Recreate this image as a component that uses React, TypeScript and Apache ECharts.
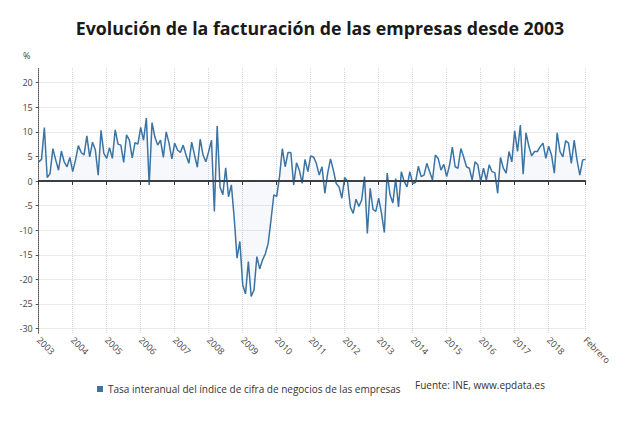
import React, { useEffect, useRef } from "react";
import * as echarts from "echarts";

const TITLE = "Evolución de la facturación de las empresas desde 2003";
const SERIES_NAME = "Tasa interanual del índice de cifra de negocios de las empresas";
const SOURCE = "Fuente: INE, www.epdata.es";
const LAST_LABEL = "Febrero";

const YEARS = [2003, 2004, 2005, 2006, 2007, 2008, 2009, 2010, 2011, 2012, 2013, 2014, 2015, 2016, 2017, 2018, 2019];

const v2003 = [3.9, 4.4, 10.9, 0.7, 1.5, 6.6, 4.3, 2.2, 6.1, 3.9, 2.9, 4.8];
const v2004 = [1.9, 4.3, 7.2, 5.8, 5.3, 9.2, 4.9, 7.9, 6.3, 1.2, 10.3, 5.6];
const v2005 = [4.6, 6.8, 4.6, 10.4, 7.5, 7.3, 3.8, 9.4, 8.3, 4.7, 7.8, 7.5];
const v2006 = [10.9, 8.3, 12.8, -0.8, 11.9, 9.0, 7.3, 8.3, 4.8, 10.0, 7.7, 4.5];
const v2007 = [7.7, 6.3, 5.8, 7.3, 5.3, 3.6, 7.9, 5.3, 2.8, 8.5, 5.3, 3.9];
const v2008 = [6.0, 8.3, -6.2, 11.2, -1.2, -2.8, 2.7, -3.2, -0.8, -7.5, -15.7, -12.3];
const v2009 = [-21.1, -23.0, -16.4, -23.5, -22.2, -15.4, -17.9, -16.1, -14.8, -12.7, -7.9, -2.8];
const v2010 = [-3.2, 0.9, 6.6, 2.9, 5.8, 5.8, -0.8, 3.7, 2.2, -0.5, 4.4, 1.9];
const v2011 = [5.1, 4.9, 3.6, 1.2, 2.9, -2.5, 1.6, 4.5, 2.2, -0.5, -1.2, -3.5];
const v2012 = [0.7, -0.1, -5.3, -6.6, -3.7, -5.2, -3.9, 0.9, -10.7, -1.5, -5.8, -6.2];
const v2013 = [-3.5, -6.6, -10.5, 1.6, -2.8, -4.5, 0.5, -5.3, 1.9, -0.1, -1.2, 1.9];
const v2014 = [-0.5, -0.3, 3.0, 0.9, 1.2, 3.6, 1.9, 0.2, 5.3, 4.6, 2.2, 3.4];
const v2015 = [0.9, 3.2, 6.9, 2.9, 2.6, 6.6, 4.9, 2.9, 2.6, 0.2, 3.9, 3.3];
const v2016 = [-0.1, 2.6, 0.2, 3.3, 1.9, 1.7, -2.5, 4.8, 2.6, 1.6, 6.0, 3.9];
const v2017 = [10.2, 6.0, 11.4, 1.4, 9.8, 7.1, 5.1, 6.0, 6.0, 7.0, 7.7, 4.6];
const v2018 = [7.1, 5.3, 1.6, 9.8, 6.0, 4.9, 8.2, 7.7, 3.6, 8.3, 4.3, 1.2];
const v2019 = [4.3, 4.4];

const YEAR_VALUES = [v2003, v2004, v2005, v2006, v2007, v2008, v2009, v2010, v2011, v2012, v2013, v2014, v2015, v2016, v2017, v2018, v2019];

const Y_MIN_LABEL = -30;
const Y_MAX_LABEL = 20;
const Y_STEP = 5;

export default function App() {
  const ref = useRef<HTMLDivElement>(null);

  useEffect(() => {
    const categories: string[] = [];
    const values: number[] = [];
    YEAR_VALUES.forEach((arr, yi) => {
      arr.forEach((v, mi) => {
        categories.push(`${YEARS[yi]}-${String(mi + 1).padStart(2, "0")}`);
        values.push(v);
      });
    });
    const last = categories.length - 1;
    const lastCat = categories[last];
    const lastFullYearStart = (YEARS.length - 2) * 12;
    const tickFn = (index: number) =>
      (index % 12 === 0 && index <= lastFullYearStart) || index === last;

    const chart = echarts.init(ref.current!, null, { renderer: "svg" });
    const font = "'Open Sans', 'Noto Sans', sans-serif";
    chart.setOption({
      animation: false,
      backgroundColor: "#ffffff",
      textStyle: { fontFamily: font },
      title: {
        text: TITLE,
        left: "center",
        top: 14,
        textStyle: { fontSize: 17.8, fontWeight: "bold", color: "#1a1a1a", fontFamily: font },
      },
      grid: [
        { left: 38.7, right: 54.5, top: 68, bottom: 97.7 },
        { left: 38.7, right: 54.5, top: 82.7, bottom: 102.5 },
      ],
      xAxis: [
        {
          type: "category",
          gridIndex: 0,
          data: categories,
          boundaryGap: false,
          axisLine: { lineStyle: { color: "#333", width: 1.5 } },
          axisTick: { interval: tickFn, length: 4, lineStyle: { color: "#333" } },
          axisLabel: {
            interval: tickFn,
            rotate: -45,
            margin: 5,
            fontSize: 9,
            color: "#444",
            hideOverlap: false,
            formatter: (value: string) => (value === lastCat ? LAST_LABEL : value.slice(0, 4)),
          },
          splitLine: {
            show: true,
            interval: tickFn,
            lineStyle: { type: "dotted", color: "#d6d6de", width: 1 },
          },
        },
        { type: "value", gridIndex: 1, show: false, min: 0, max: 1 },
      ],
      yAxis: [
        {
          type: "value",
          gridIndex: 0,
          min: -31,
          max: 23,
          axisLine: { show: true, lineStyle: { color: "#555", type: "dotted", width: 1 } },
          axisTick: { show: false },
          axisLabel: { show: false },
          splitLine: { show: false },
        },
        {
          type: "value",
          gridIndex: 1,
          min: Y_MIN_LABEL,
          max: Y_MAX_LABEL,
          interval: Y_STEP,
          axisLine: { show: false },
          axisTick: { show: true, length: 3, lineStyle: { color: "#555" } },
          axisLabel: { fontSize: 9, color: "#444", margin: 6 },
          splitLine: { lineStyle: { type: "dotted", color: "#d6d6de", width: 1 } },
        },
      ],
      legend: {
        data: [SERIES_NAME],
        left: 92,
        top: 379,
        icon: "rect",
        itemWidth: 6,
        itemHeight: 6,
        itemGap: 4,
        textStyle: { fontSize: 10, color: "#333", fontFamily: font },
      },
      graphic: [
        { type: "text", left: 23, top: 51, style: { text: "%", fontSize: 9, fill: "#444", fontFamily: font } },
        { type: "text", left: 415, top: 380, style: { text: SOURCE, fontSize: 10, fill: "#333", fontFamily: font } },
      ],
      series: [
        {
          name: SERIES_NAME,
          type: "line",
          xAxisIndex: 0,
          yAxisIndex: 0,
          data: values,
          symbol: "none",
          color: "#3b74a4",
          lineStyle: { color: "#3b74a4", width: 1.5 },
          areaStyle: { color: "rgba(59,116,164,0.07)" },
          markLine: {
            silent: true,
            symbol: "none",
            label: { show: false },
            lineStyle: { color: "#333", width: 1.5, type: "solid" },
            data: [{ yAxis: 0 }],
          },
          z: 3,
        },
      ],
    });
    return () => chart.dispose();
  }, []);

  return (
    <div
      ref={ref}
      style={{ position: "absolute", left: 0, top: 0, width: 640, height: 431 }}
    />
  );
}
